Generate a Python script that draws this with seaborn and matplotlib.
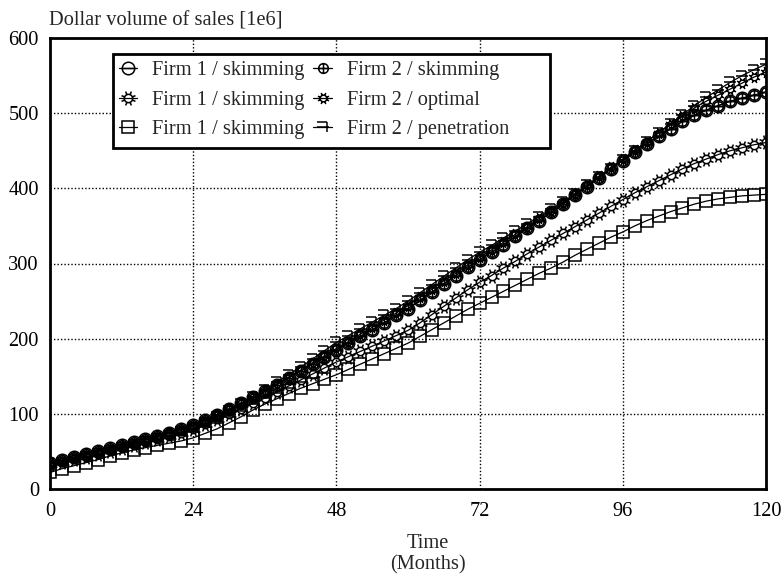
import matplotlib
matplotlib.use("Agg")
import matplotlib.pyplot as plt
import seaborn as sns
import pandas as pd
import numpy as np
from matplotlib.path import Path
from matplotlib.patches import Rectangle

# ---------------- data ----------------
months = list(range(0, 121, 2))

firm1_skim_vs_skim = [35, 38, 42, 46, 50, 54, 58, 62, 66, 70, 75, 80, 85, 92, 99, 106, 114, 122, 130, 139,
                      148, 157, 166, 175, 185, 194, 203, 212, 221, 231, 240, 251, 262, 273, 284, 295, 305,
                      315, 325, 336, 347, 357, 368, 379, 391, 402, 414, 426, 437, 448, 459, 469, 479, 489,
                      497, 504, 510, 516, 520, 524, 528]
firm2_skim = [35, 38, 42, 46, 50, 54, 58, 62, 66, 70, 75, 80, 85, 92, 99, 106, 114, 122, 130, 139,
              148, 157, 166, 175, 185, 194, 203, 212, 221, 231, 240, 251, 262, 273, 284, 295, 305,
              315, 325, 336, 347, 357, 368, 379, 391, 402, 414, 426, 437, 448, 459, 469, 479, 489,
              497, 504, 510, 516, 520, 524, 528]
firm1_skim_vs_optimal = [33, 36, 40, 43, 47, 51, 55, 59, 63, 67, 71, 75, 80, 86, 93, 100, 107, 114, 121, 129,
                         137, 145, 153, 161, 169, 176, 183, 190, 197, 204, 211, 221, 232, 243, 254, 265, 275,
                         284, 294, 303, 313, 322, 331, 340, 349, 358, 367, 376, 385, 394, 402, 410, 418, 426,
                         433, 439, 445, 450, 454, 458, 461]
firm2_optimal = [34, 37, 41, 45, 49, 53, 57, 61, 65, 69, 74, 79, 84, 91, 98, 106, 114, 122, 131, 140,
                 149, 158, 168, 177, 187, 196, 206, 215, 225, 234, 244, 255, 266, 277, 287, 298, 308,
                 318, 328, 339, 349, 360, 370, 381, 392, 404, 416, 428, 439, 451, 462, 474, 485, 496,
                 507, 516, 524, 532, 540, 548, 555]
firm1_skim_vs_penetration = [22, 27, 31, 35, 39, 44, 48, 52, 55, 58, 61, 64, 68, 74, 80, 88, 96, 105, 113, 120,
                             127, 134, 140, 146, 152, 159, 166, 173, 180, 187, 194, 203, 212, 221, 230, 239, 247,
                             255, 263, 271, 279, 287, 294, 302, 311, 319, 327, 335, 342, 350, 357, 363, 369, 374,
                             379, 383, 386, 388, 390, 391, 392]
firm2_penetration = [30, 34, 38, 42, 46, 50, 54, 58, 62, 66, 71, 76, 81, 88, 96, 104, 113, 122, 132, 142,
                     152, 162, 173, 184, 195, 204, 213, 222, 231, 240, 250, 261, 272, 283, 294, 305, 315,
                     324, 334, 343, 353, 362, 372, 382, 393, 404, 415, 426, 438, 450, 462, 474, 486, 498,
                     510, 521, 531, 541, 550, 558, 565]

series_labels = ["Firm 1 / skimming", "Firm 1 / skimming", "Firm 1 / skimming",
                 "Firm 2 / skimming", "Firm 2 / optimal", "Firm 2 / penetration"]
x_ticks = [0, 24, 48, 72, 96, 120]
y_ticks = [0, 100, 200, 300, 400, 500, 600]
y_title = "Dollar volume of sales [1e6]"
x_title = "Time\n(Months)"

# ---------------- markers ----------------
def seg(a, b):
    return Path([a, b], [Path.MOVETO, Path.LINETO])

circle_bar = Path.make_compound_path(Path.unit_circle(), seg((-1, 0), (1, 0)))
circle_cross = Path.make_compound_path(Path.unit_circle(), seg((-1, 0), (1, 0)),
                                       seg((0, -1), (0, 1)))
_inner = Path(Path.unit_circle().vertices * 0.55, Path.unit_circle().codes)
_rays = [seg((0.55 * np.cos(a), 0.55 * np.sin(a)), (np.cos(a), np.sin(a)))
         for a in np.linspace(0, 2 * np.pi, 8, endpoint=False) + np.pi / 8]
sun = Path.make_compound_path(_inner, *_rays)
tick_mark = Path.make_compound_path(seg((-1, 0), (1, 0)), seg((0.6, -0.8), (0.6, 0.8)),
                                    seg((-1, 0.8), (0.6, 0.8)))

values = [firm1_skim_vs_skim, firm1_skim_vs_optimal, firm1_skim_vs_penetration,
          firm2_skim, firm2_optimal, firm2_penetration]
styles = [dict(marker=circle_bar, markersize=9),
          dict(marker=sun, markersize=10),
          dict(marker="s", markersize=8),
          dict(marker=circle_cross, markersize=7),
          dict(marker=sun, markersize=8),
          dict(marker=tick_mark, markersize=9)]

rows = []
for i, (lab, vals) in enumerate(zip(series_labels, values)):
    for m, v in zip(months, vals):
        rows.append({"series": i, "label": lab, "month": m, "value": v})
df = pd.DataFrame(rows)

# ---------------- figure ----------------
sns.set_theme(style="white")
plt.rcParams['font.family'] = ['Liberation Serif', 'DejaVu Serif']
plt.rcParams['font.size'] = 14.7

fig = plt.figure(figsize=(7.84, 5.76), dpi=100)
ax = fig.add_axes([50 / 784, 87 / 576, 716 / 784, 451 / 576])

for i in range(6):
    sub = df[df["series"] == i]
    sns.lineplot(data=sub, x="month", y="value", ax=ax, color="black", linewidth=0.9,
                 markerfacecolor="none", markeredgecolor="black", markeredgewidth=1.1,
                 label=series_labels[i], legend=False, **styles[i])

ax.set_xlim(0, 120)
ax.set_ylim(0, 600)
ax.set_xticks(x_ticks)
ax.set_yticks(y_ticks)
ax.set_xticklabels([str(t) for t in x_ticks])
ax.set_yticklabels([str(t) for t in y_ticks])
ax.tick_params(axis="both", length=0, labelsize=14.7, colors="black")
ax.tick_params(axis="x", pad=9)
ax.tick_params(axis="y", pad=8)
ax.set_xlabel("")
ax.set_ylabel("")
ax.grid(True, color="black", linestyle=(0, (1, 1.5)), linewidth=1.0)
for s in ax.spines.values():
    s.set_color("black")
    s.set_linewidth(2.0)
    s.set_visible(True)

# legend frame (wider than the text, as in the reference)
x0, x1 = (113 - 50) / 716, (550 - 50) / 716
y0, y1 = (489 - 148) / 451, (489 - 54) / 451
ax.add_patch(Rectangle((x0, y0), x1 - x0, y1 - y0, transform=ax.transAxes,
                       facecolor="white", edgecolor="black", linewidth=2.0, zorder=5))

handles, labels = ax.get_legend_handles_labels()
leg = ax.legend(handles, labels, ncol=2, loc="upper left",
                bbox_to_anchor=(x0 + 0.001, y1 - 0.004), frameon=False,
                fontsize=14.7, handlelength=0.9,
                handletextpad=0.72, columnspacing=0.45, labelspacing=0.5,
                borderpad=0.25, borderaxespad=0.0)
leg.set_zorder(6)

fig.text(49 / 784, 1 - 21 / 576, y_title, ha="left", va="center", fontsize=14.7)
fig.text(428 / 784, 1 - 554 / 576, x_title, ha="center", va="center",
         fontsize=14.7, linespacing=1.15)

fig.savefig("out.png", dpi=100, facecolor="white")
